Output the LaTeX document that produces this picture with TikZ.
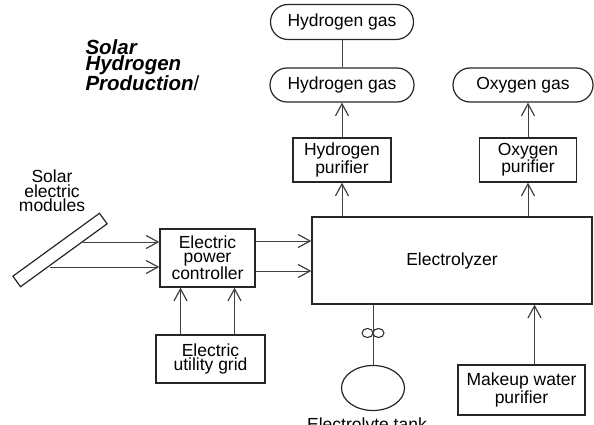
\documentclass[tikz,border=0pt]{standalone}
\usepackage{fontspec}
\setmainfont{Liberation Sans}
\usetikzlibrary{arrows.meta, shapes.geometric, shapes.misc, positioning}

\begin{document}
\begin{tikzpicture}[x=1pt, y=-1pt,
  box/.style={draw=black!85, line width=1.3pt, align=center, inner sep=0pt,
    font=\fontsize{17.5}{14}\selectfont},
  gas/.style={draw=black!85, line width=1.2pt, rounded rectangle, inner sep=0pt,
    font=\fontsize{17.5}{14}\selectfont},
  flow/.style={-{Straight Barb[length=12pt,width=13pt,line width=1.2pt]}, black!75, line width=1pt},
  pipe/.style={black!75, line width=1pt}]
  \useasboundingbox (0,0) rectangle (594,425);
  % title
  \node[align=left, anchor=west, font=\fontsize{20.5}{16}\selectfont\bfseries\itshape]
    (title) at (82,65) {Solar\\Hydrogen\\Production{\mdseries\upshape/}};
  % gas outlets
  \node[gas, minimum width=143, minimum height=35] (h2top) at (342,22) {Hydrogen gas};
  \node[gas, minimum width=144, minimum height=34] (h2) at (342,85) {Hydrogen gas};
  \node[gas, minimum width=140, minimum height=34] (o2) at (523,85) {Oxygen gas};
  % purifiers
  \node[box, minimum width=98, minimum height=44] (hpur) at (342,160) {Hydrogen\\purifier};
  \node[box, minimum width=97, minimum height=44] (opur) at (528,160) {Oxygen\\purifier};
  % main units
  \node[box, minimum width=280, minimum height=87] (elec) at (452,260.5) {Electrolyzer};
  \node[box, minimum width=95, minimum height=58] (ctrl) at (207.5,258) {Electric\\power\\controller};
  \node[box, minimum width=109, minimum height=48] (grid) at (210.5,359) {Electric\\utility grid};
  \node[box, minimum width=127, minimum height=50] (mwp) at (521.5,390) {Makeup water\\purifier};
  % solar modules
  \node[draw=black!85, line width=1.2pt, rotate=36, minimum width=107, minimum height=13,
    inner sep=0pt] (panel) at (60,250) {};
  \node[align=center, font=\fontsize{17.5}{14.5}\selectfont] (modlabel) at (52,191) {Solar\\electric\\modules};
  \coordinate (pv1) at (83,242);
  \coordinate (pv2) at (50,267);
  % electrolyte tank and valve
  \node[draw=black!85, line width=1.2pt, ellipse, minimum width=63, minimum height=45] (tank) at (373,388) {};
  \node[font=\fontsize{17.5}{14}\selectfont] (tanklabel) at (367,426) {Electrolyte tank};
  \node[draw=black!85, line width=1pt, ellipse, minimum width=11, minimum height=9, inner sep=0pt] (vl) at (367.5,333) {};
  \node[draw=black!85, line width=1pt, ellipse, minimum width=11, minimum height=9, inner sep=0pt] (vr) at (378.5,333) {};

  % connections
  \draw[pipe] (h2.north) -- (h2top.south);
  \draw[flow] (hpur.north) -- (h2.south);
  \draw[flow] (hpur.south |- elec.north) -- (hpur.south);
  \draw[flow] (opur.north) -- (opur.north |- o2.south);
  \draw[flow] (opur.south |- elec.north) -- (opur.south);
  \draw[flow] (pv1) -- (pv1 -| ctrl.west);
  \draw[flow] (pv2) -- (pv2 -| ctrl.west);
  \draw[flow] ([yshift=17pt]ctrl.east) -- ([yshift=17pt]ctrl.east -| elec.west);
  \draw[flow] ([yshift=-13pt]ctrl.east) -- ([yshift=-13pt]ctrl.east -| elec.west);
  \draw[flow] ([xshift=-27pt]ctrl.south |- grid.north) -- ([xshift=-27pt]ctrl.south);
  \draw[flow] ([xshift=27pt]ctrl.south |- grid.north) -- ([xshift=27pt]ctrl.south);
  \draw[flow] ([xshift=13pt]mwp.north) -- ([xshift=13pt]mwp.north |- elec.south);
  \draw[pipe] (tank.north |- elec.south) -- (tank.north);
\end{tikzpicture}
\end{document}
